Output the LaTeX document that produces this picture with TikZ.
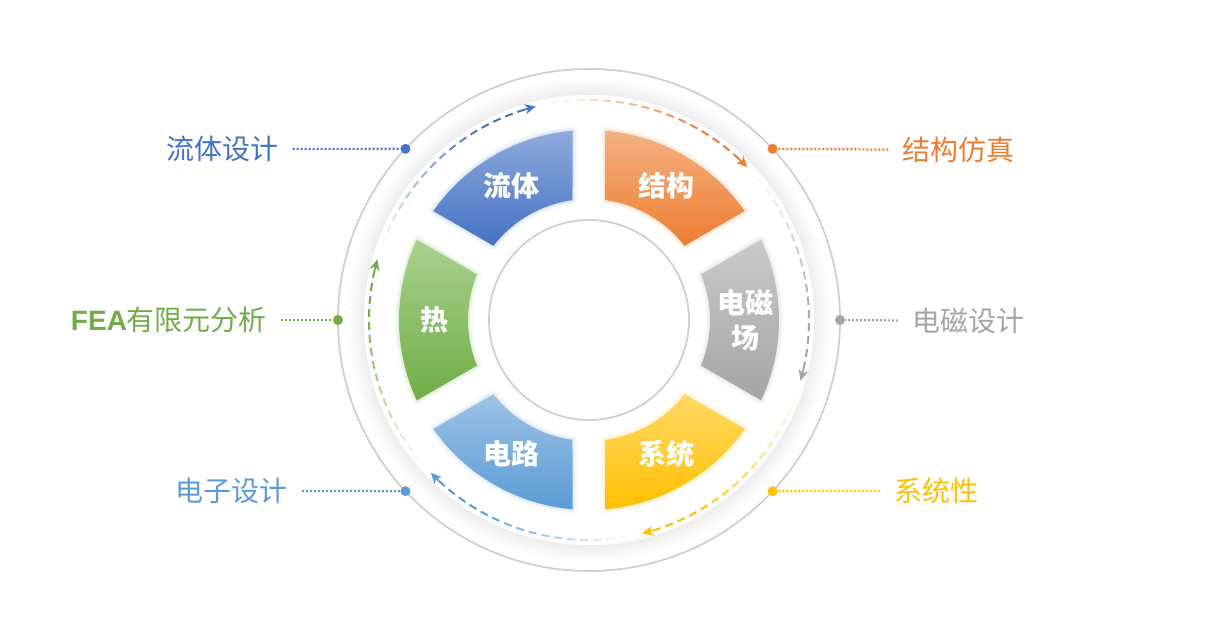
\documentclass[tikz,border=0pt]{standalone}
\usepackage{fontspec}
\setmainfont{Liberation Sans}
\newfontfamily\cjk{Noto Sans CJK SC}
\newfontfamily\lat{Liberation Sans}
\usetikzlibrary{arrows.meta}
\definecolor{cA}{HTML}{4472C4}\definecolor{cAl}{HTML}{8FAADC}
\definecolor{cB}{HTML}{ED7D31}\definecolor{cBl}{HTML}{F4B183}
\definecolor{cC}{HTML}{A5A5A5}\definecolor{cCl}{HTML}{C9C9C9}
\definecolor{cD}{HTML}{FFC000}\definecolor{cDl}{HTML}{FFD966}
\definecolor{cE}{HTML}{5B9BD5}\definecolor{cEl}{HTML}{9DC3E6}
\definecolor{cF}{HTML}{70AD47}\definecolor{cFl}{HTML}{A9D18E}
\definecolor{ringgray}{HTML}{D0D0D0}
\tikzset{
  seglbl/.style={text=white, font=\cjk\bfseries\fontsize{28}{35}\selectfont, align=center, inner sep=0},
  lbl/.style={font=\cjk\fontsize{28}{34}\selectfont, inner xsep=14, inner ysep=2},
  dotn/.style={circle, inner sep=0, minimum size=10},
  leader/.style={line width=2.2, dash pattern=on 2 off 2},
}
\begin{document}
\begin{tikzpicture}[x=1pt,y=1pt]
\useasboundingbox (-589,-316) rectangle (631,320);
% soft shadow of the white disc
\foreach \i in {1,...,16}{
  \draw[black, opacity=0.0035, line width=2*\i] (0,0) circle[radius=226];
}
\fill[white] (0,0) circle[radius=225];
\draw[ringgray, line width=1.8] (0,0) circle[radius=251];
% segments
\foreach \c/\lt/\dk in {120/cAl/cA, 60/cBl/cB, 0/cCl/cC, -60/cDl/cD, -120/cEl/cE, 180/cFl/cF}{
  \pgfmathsetmacro\aa{\c+25.02}
  \pgfmathsetmacro\ab{\c-25.02}
  \pgfmathsetmacro\ba{\c-22.16}
  \pgfmathsetmacro\bb{\c+22.16}
  \foreach \w/\o in {10/0.06, 6/0.1, 3/0.15}{
    \draw[\lt, line width=\w, opacity=\o, line join=round]
      (\aa:190) arc[start angle=\aa, end angle=\ab, radius=190] -- (\ba:121) arc[start angle=\ba, end angle=\bb, radius=121] -- cycle;
  }
  \shade[top color=\lt, bottom color=\dk]
    (\aa:190) arc[start angle=\aa, end angle=\ab, radius=190] -- (\ba:121) arc[start angle=\ba, end angle=\bb, radius=121] -- cycle;
}
\draw[ringgray, line width=1.8] (0,0) circle[radius=100];
% dashed fading arrows
\foreach \e/\col in {104/cA, 44/cB, -16/cC, -76/cD, -136/cE, 164/cF}{
  \foreach \i in {0,...,15}{
    \pgfmathsetmacro\sa{\e+56-3.4*\i}
    \pgfmathsetmacro\ea{\sa-2.1}
    \pgfmathsetmacro\op{min(1,0.06+1.2*\i/15)}
    \draw[\col, line width=2, opacity=\op] (\sa:220) arc[start angle=\sa, end angle=\ea, radius=220];
  }
  \pgfmathsetmacro\sa{\e+2.8}
  \draw[\col, line width=2, -{Stealth[length=11,width=10]}] (\sa:220) arc[start angle=\sa, end angle=\e, radius=220];
}
% segment labels
\node[seglbl] (s1) at (120:155) {流体};
\node[seglbl] (s2) at (60:155) {结构};
\node[seglbl] (s3) at (0:156) {电磁\\场};
\node[seglbl] (s4) at (-60:155) {系统};
\node[seglbl] (s5) at (-120:155) {电路};
\node[seglbl] (s6) at (180:154) {热};
% dots on the outer ring
\node[dotn, fill=cA] (d1) at (137:251) {};
\node[dotn, fill=cB] (d2) at (43:251) {};
\node[dotn, fill=cC] (d3) at (0:251) {};
\node[dotn, fill=cD] (d4) at (-43:251) {};
\node[dotn, fill=cE] (d5) at (-137:251) {};
\node[dotn, fill=cF] (d6) at (180:251) {};
% outer labels
\node[lbl, text=cA] (l1) at (-366.5,171) {流体设计};
\node[lbl, text=cB] (l2) at (369.5,170) {结构仿真};
\node[lbl, text=cC] (l3) at (379,-1) {电磁设计};
\node[lbl, text=cD] (l4) at (347.5,-171) {系统性};
\node[lbl, text=cE] (l5) at (-357,-171) {电子设计};
\node[lbl, text=cF] (l6) at (-420,0) {{\lat\bfseries FEA}有限元分析};
% leaders
\draw[leader, cA] (l1) -- (d1);
\draw[leader, cB] (l2) -- (d2);
\draw[leader, cC] (l3) -- (d3);
\draw[leader, cD] (l4) -- (d4);
\draw[leader, cE] (l5) -- (d5);
\draw[leader, cF] (l6) -- (d6);
\end{tikzpicture}
\end{document}
